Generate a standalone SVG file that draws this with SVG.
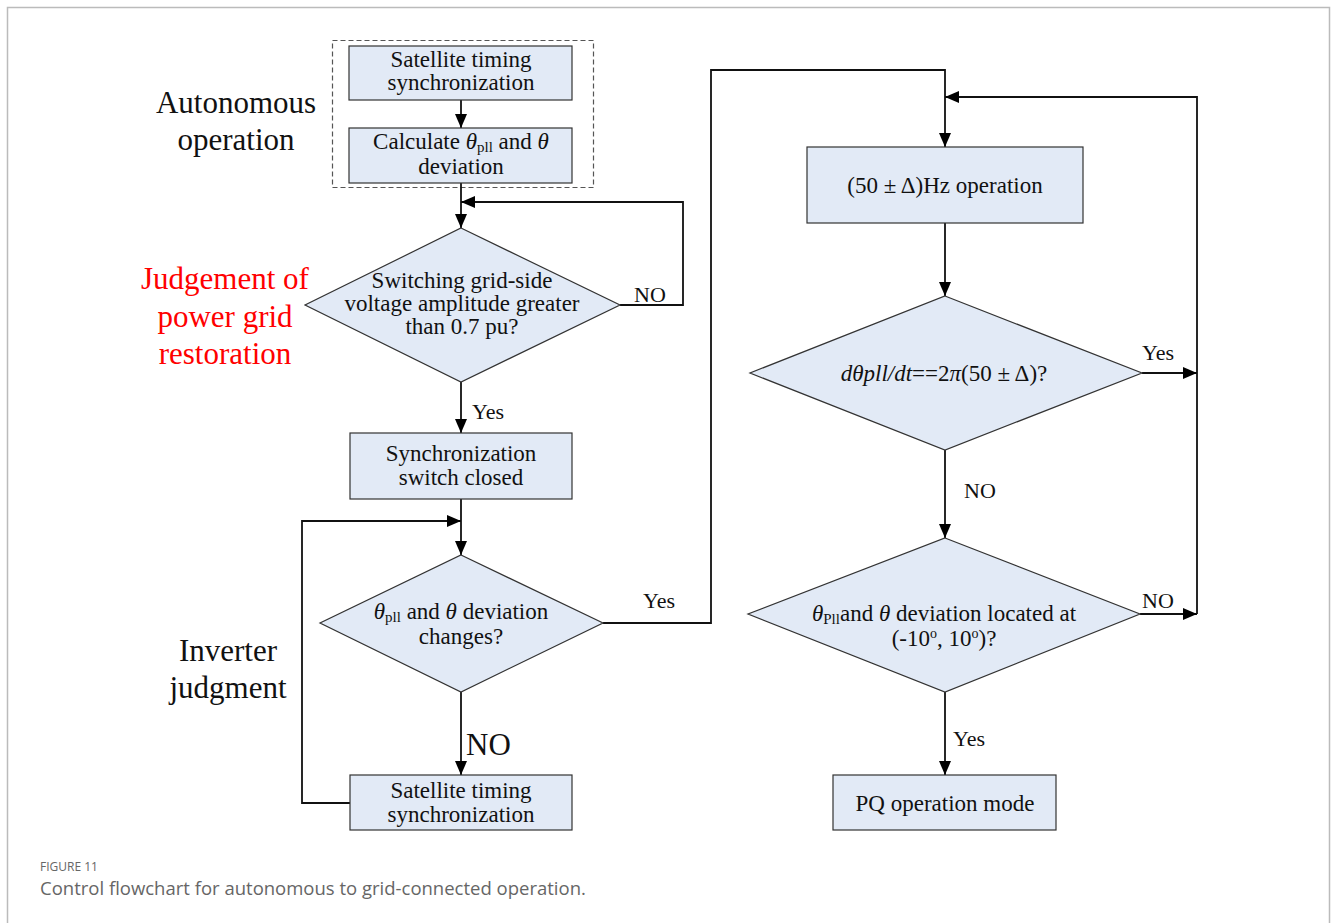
<svg xmlns="http://www.w3.org/2000/svg" width="1331" height="923" viewBox="0 0 1331 923">
  <style>
    .node { fill: #e2eaf6; stroke: #333; stroke-width: 1.2; }
    .t { font-family: "Liberation Serif", "Times New Roman", serif; font-size: 23px; fill: #111; text-anchor: middle; }
    .lbl { font-family: "Liberation Serif", "Times New Roman", serif; font-size: 22px; fill: #111; }
    .side { font-family: "Liberation Serif", "Times New Roman", serif; font-size: 31px; fill: #111; text-anchor: middle; }
    .red { fill: #ff0000; }
    .wire { fill: none; stroke: #111; stroke-width: 1.8; }
    .cap1 { font-family: "Open Sans", "Liberation Sans", sans-serif; font-size: 12px; fill: #666; }
    .cap2 { font-family: "Open Sans", "Liberation Sans", sans-serif; font-size: 18.5px; fill: #666; }
    .it { font-style: italic; }
    .sub { font-size: 15px; }
  </style>
  <defs>
    <marker id="arr" viewBox="0 0 14 12" refX="14" refY="6" markerWidth="14" markerHeight="12" markerUnits="userSpaceOnUse" orient="auto">
      <path d="M0,0 L14,6 L0,12 Z" fill="#000"/>
    </marker>
  </defs>

  <rect width="1331" height="923" fill="#fff"/>
  <!-- figure frame -->
  <path d="M7.5,923 V7.5 H1329.5 V923" fill="none" stroke="#bbb" stroke-width="1.5"/>

  <!-- side labels -->
  <g id="label-autonomous">
    <text class="side" x="236" y="113">Autonomous</text>
    <text class="side" x="236" y="150">operation</text>
  </g>
  <g id="label-judgement">
    <text class="side red" x="225" y="289">Judgement of</text>
    <text class="side red" x="225" y="327">power grid</text>
    <text class="side red" x="225" y="364">restoration</text>
  </g>
  <g id="label-inverter">
    <text class="side" x="228" y="661">Inverter</text>
    <text class="side" x="228" y="698">judgment</text>
  </g>

  <!-- dashed group of the autonomous stage -->
  <rect x="332.5" y="40.5" width="261" height="147" fill="none" stroke="#555" stroke-width="1.2" stroke-dasharray="5,3"/>

  <!-- connectors -->
  <g id="connectors">
    <path class="wire" d="M461,100 V128" marker-end="url(#arr)"/>
    <path class="wire" d="M461,183 V228" marker-end="url(#arr)"/>
    <path class="wire" d="M620,305 H683 V202 H461" marker-end="url(#arr)"/>
    <path class="wire" d="M461,382 V433" marker-end="url(#arr)"/>
    <path class="wire" d="M461,499 V555" marker-end="url(#arr)"/>
    <path class="wire" d="M350,803 H302 V521 H461" marker-end="url(#arr)"/>
    <path class="wire" d="M461,692 V775" marker-end="url(#arr)"/>
    <path class="wire" d="M603,623 H711 V70 H945 V147" marker-end="url(#arr)"/>
    <path class="wire" d="M945,223 V296" marker-end="url(#arr)"/>
    <path class="wire" d="M1142,373 H1197" marker-end="url(#arr)"/>
    <path class="wire" d="M1140,614 H1197" marker-end="url(#arr)"/>
    <path class="wire" d="M1197,614 V97 H945" marker-end="url(#arr)"/>
    <path class="wire" d="M945,450 V538" marker-end="url(#arr)"/>
    <path class="wire" d="M945,692 V775" marker-end="url(#arr)"/>
    <text class="lbl" x="634" y="302">NO</text>
    <text class="lbl" x="472" y="419">Yes</text>
    <text class="lbl" x="643" y="608">Yes</text>
    <text class="lbl" x="466" y="755" style="font-size:31px">NO</text>
    <text class="lbl" x="1142" y="360">Yes</text>
    <text class="lbl" x="964" y="498">NO</text>
    <text class="lbl" x="1142" y="608">NO</text>
    <text class="lbl" x="953" y="746">Yes</text>
  </g>

  <g id="n-sat1">
    <rect class="node" x="349" y="46" width="223" height="54"/>
    <text class="t" x="461" y="67">Satellite timing</text>
    <text class="t" x="461" y="90">synchronization</text>
  </g>
  <g id="n-calc">
    <rect class="node" x="349" y="128" width="223" height="55"/>
    <text class="t" x="461" y="149">Calculate <tspan class="it">θ</tspan><tspan class="sub" dy="3">pll</tspan><tspan dy="-3"> and </tspan><tspan class="it">θ</tspan></text>
    <text class="t" x="461" y="174">deviation</text>
  </g>
  <g id="n-voltage">
    <polygon class="node" points="461,228 620,305 461,382 305,305"/>
    <text class="t" x="462" y="288">Switching grid-side</text>
    <text class="t" x="462" y="311">voltage amplitude greater</text>
    <text class="t" x="462" y="334">than 0.7 pu?</text>
  </g>
  <g id="n-switch">
    <rect class="node" x="350" y="433" width="222" height="66"/>
    <text class="t" x="461" y="461">Synchronization</text>
    <text class="t" x="461" y="485">switch closed</text>
  </g>
  <g id="n-deviation">
    <polygon class="node" points="461,555 603,623 461,692 320,623"/>
    <text class="t" x="461" y="619"><tspan class="it">θ</tspan><tspan class="sub" dy="3">pll</tspan><tspan dy="-3"> and </tspan><tspan class="it">θ</tspan> deviation</text>
    <text class="t" x="461" y="644">changes?</text>
  </g>
  <g id="n-sat2">
    <rect class="node" x="350" y="775" width="222" height="55"/>
    <text class="t" x="461" y="798">Satellite timing</text>
    <text class="t" x="461" y="822">synchronization</text>
  </g>
  <g id="n-hz">
    <rect class="node" x="807" y="147" width="276" height="76"/>
    <text class="t" x="945" y="193">(50 ± Δ)Hz operation</text>
  </g>
  <g id="n-freq">
    <polygon class="node" points="945,296 1142,373 945,450 750,373"/>
    <text class="t" x="944" y="381"><tspan class="it">dθpll/dt</tspan>==2<tspan class="it">π</tspan>(50 ± Δ)?</text>
  </g>
  <g id="n-range">
    <polygon class="node" points="945,538 1140,614 945,692 748,614"/>
    <text class="t" x="944" y="621"><tspan class="it">θ</tspan><tspan class="sub" dy="3">Pll</tspan><tspan dy="-3">and </tspan><tspan class="it">θ</tspan> deviation located at</text>
    <text class="t" x="944" y="646">(-10<tspan font-size="14" dy="-8">o</tspan><tspan dy="8">, 10</tspan><tspan font-size="14" dy="-8">o</tspan><tspan dy="8">)?</tspan></text>
  </g>
  <g id="n-pq">
    <rect class="node" x="833" y="775" width="223" height="55"/>
    <text class="t" x="945" y="811">PQ operation mode</text>
  </g>

  <!-- caption -->
  <text class="cap1" x="40" y="871">FIGURE 11</text>
  <text class="cap2" x="40" y="895">Control flowchart for autonomous to grid-connected operation.</text>
</svg>
